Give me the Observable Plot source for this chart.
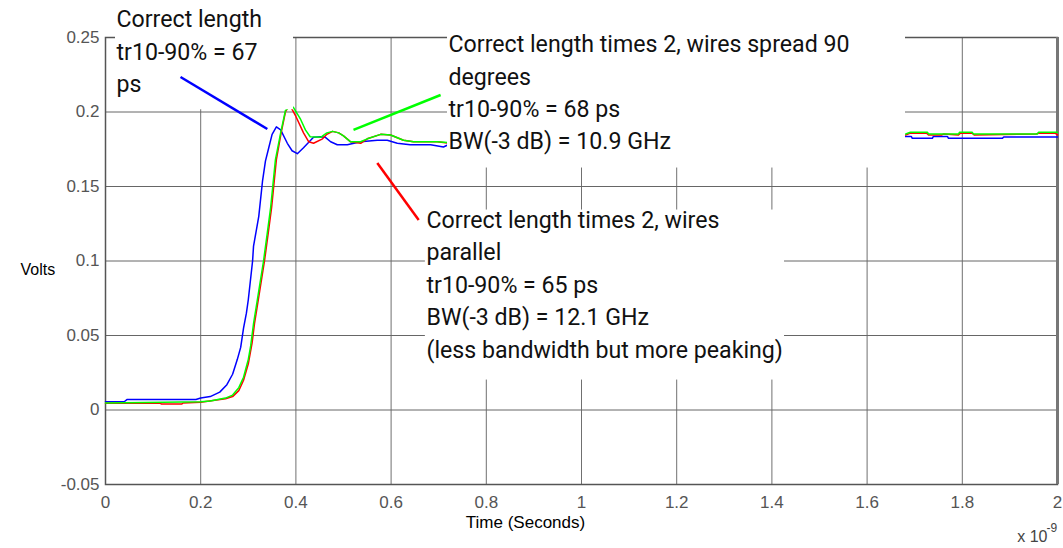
<!DOCTYPE html>
<html>
<head>
<meta charset="utf-8">
<script src="https://cdn.jsdelivr.net/npm/d3@7"></script>
<script src="https://cdn.jsdelivr.net/npm/@observablehq/plot@0.6"></script>
<style>
  html, body { margin: 0; padding: 0; background: #fff; }
  #chart svg { display: block; }
</style>
</head>
<body>
<div id="chart"></div>
<script>
// ---- axes ----
const xTicks = [0, 0.2, 0.4, 0.6, 0.8, 1, 1.2, 1.4, 1.6, 1.8, 2];
const yTicks = [-0.05, 0, 0.05, 0.1, 0.15, 0.2, 0.25];

// ---- series (time in ns, value in volts) ----
const blueT = [0, 0.04, 0.045, 0.19, 0.2, 0.22, 0.24, 0.255, 0.267, 0.277, 0.284, 0.29, 0.296, 0.3, 0.309, 0.311, 0.322, 0.33, 0.336, 0.343, 0.35, 0.359, 0.368, 0.382, 0.392, 0.403, 0.416, 0.437, 0.452, 0.462, 0.473, 0.487, 0.508, 0.536, 0.571, 0.592, 0.613, 0.64, 0.683, 0.71, 0.72,
  1.681, 1.693, 1.695, 1.737, 1.739, 1.769, 1.771, 1.884, 1.887, 2.0];
const blueV = [0.0055, 0.0057, 0.007, 0.007, 0.008, 0.009, 0.012, 0.017, 0.024, 0.034, 0.042, 0.055, 0.065, 0.074, 0.1, 0.11, 0.13, 0.154, 0.167, 0.176, 0.185, 0.19, 0.188, 0.179, 0.174, 0.172, 0.176, 0.183, 0.1834, 0.183, 0.18, 0.178, 0.178, 0.18, 0.181, 0.181, 0.179, 0.178, 0.178, 0.1765, 0.178,
  0.1835, 0.1835, 0.1823, 0.1823, 0.1835, 0.1835, 0.1823, 0.1823, 0.1832, 0.1832];

const redT = [0, 0.115, 0.118, 0.16, 0.163, 0.2, 0.252, 0.267, 0.28, 0.29, 0.3, 0.308, 0.313, 0.324, 0.334, 0.342, 0.349, 0.354, 0.359, 0.369, 0.378, 0.385, 0.39, 0.4, 0.416, 0.427, 0.437, 0.456, 0.465, 0.477, 0.49, 0.5, 0.515, 0.536, 0.55, 0.578, 0.599, 0.626, 0.647, 0.697, 0.718,
  1.681, 1.691, 1.725, 1.729, 1.757, 1.761, 1.792, 1.796, 1.821, 1.825, 1.955, 1.96, 1.995, 2.0];
const redV = [0.0045, 0.0045, 0.004, 0.004, 0.0047, 0.0052, 0.0075, 0.009, 0.013, 0.02, 0.031, 0.045, 0.058, 0.08, 0.1, 0.119, 0.136, 0.152, 0.168, 0.186, 0.2, 0.204, 0.203, 0.197, 0.186, 0.18, 0.179, 0.182, 0.185, 0.187, 0.186, 0.184, 0.18, 0.179, 0.182, 0.185, 0.1846, 0.181, 0.18, 0.18, 0.1792,
  0.1846, 0.1858, 0.1858, 0.1846, 0.1846, 0.1852, 0.1846, 0.1858, 0.1858, 0.1846, 0.1852, 0.1858, 0.1858, 0.1846];

const greenT = [0, 0.2, 0.22, 0.252, 0.267, 0.28, 0.29, 0.3, 0.305, 0.311, 0.322, 0.332, 0.34, 0.347, 0.352, 0.357, 0.368, 0.378, 0.389, 0.395, 0.41, 0.42, 0.43, 0.452, 0.465, 0.477, 0.49, 0.5, 0.515, 0.536, 0.55, 0.578, 0.599, 0.626, 0.647, 0.697, 0.718,
  1.681, 1.691, 1.727, 1.729, 1.792, 1.794, 1.821, 1.823, 1.958, 1.96, 2.0];
const greenV = [0.0047, 0.0055, 0.006, 0.008, 0.01, 0.015, 0.022, 0.034, 0.043, 0.058, 0.08, 0.1, 0.119, 0.136, 0.152, 0.168, 0.186, 0.201, 0.204, 0.203, 0.195, 0.188, 0.1834, 0.183, 0.186, 0.187, 0.186, 0.184, 0.18, 0.18, 0.182, 0.185, 0.1846, 0.181, 0.18, 0.18, 0.1795,
  0.1852, 0.1864, 0.1864, 0.1852, 0.1852, 0.1864, 0.1864, 0.1852, 0.1852, 0.1864, 0.1864];

// ---- annotations (data units) ----
const annText = [
  "Correct length\ntr10-90% = 67\nps",
  "Correct length times 2, wires spread 90\ndegrees\ntr10-90% = 68 ps\nBW(-3 dB) = 10.9 GHz",
  "Correct length times 2, wires\nparallel\ntr10-90% = 65 ps\nBW(-3 dB) = 12.1 GHz\n(less bandwidth but more peaking)"
];
const annX = [0.0231, 0.7206, 0.6744];
const annY = [0.2723, 0.2555, 0.1376];
const boxX1 = [0.021, 0.7185, 0.672];
const boxX2 = [0.395, 1.6807, 1.4265];
const boxY1 = [0.2015, 0.1624, 0.0201];
const boxY2 = [0.285, 0.2604, 0.1342];
const ptrX1 = [0.1576, 0.521, 0.571];
const ptrY1 = [0.2235, 0.188, 0.1658];
const ptrX2 = [0.34, 0.704, 0.658];
const ptrY2 = [0.1886, 0.2114, 0.1275];
const ptrColor = ["#0000ff", "#00ff00", "#ff0000"];

const series = (T, V) => T.map((t, i) => ({t, v: V[i]}));
const blue = series(blueT, blueV), red = series(redT, redV), green = series(greenT, greenV);
const anns = annText.map((s, i) => ({s, x: annX[i], y: annY[i]}));
const boxes = boxX1.map((_, i) => ({x1: boxX1[i], x2: boxX2[i], y1: boxY1[i], y2: boxY2[i]}));
const ptrs = ptrX1.map((_, i) => ({x1: ptrX1[i], y1: ptrY1[i], x2: ptrX2[i], y2: ptrY2[i], c: ptrColor[i]}));

const chart = Plot.plot({
  width: 1063,
  height: 548,
  marginLeft: 105,
  marginRight: 6,
  marginTop: 37,
  marginBottom: 64,
  style: {fontFamily: "'Liberation Sans', Arial, sans-serif", background: "#fff"},
  x: {domain: [0, 2]},
  y: {domain: [-0.05, 0.25]},
  marks: [
    Plot.ruleX(xTicks, {stroke: "#707070", strokeWidth: 1}),
    Plot.ruleY(yTicks, {stroke: "#666", strokeWidth: 1}),
    Plot.frame({stroke: "#555", strokeWidth: 1.5}),
    Plot.ruleX([2], {stroke: "#777", strokeWidth: 3}),
    Plot.axisX({ticks: xTicks, tickSize: 0, tickPadding: 11, fontSize: 17, color: "#555", label: null, tickFormat: d => String(d)}),
    Plot.axisY({ticks: yTicks, tickSize: 0, tickPadding: 6, fontSize: 17, color: "#555", label: null, tickFormat: d => String(d)}),
    Plot.line(blue, {x: "t", y: "v", stroke: "#0000ff", strokeWidth: 1.5}),
    Plot.line(red, {x: "t", y: "v", stroke: "#ff0000", strokeWidth: 1.5}),
    Plot.line(green, {x: "t", y: "v", stroke: "#00ff00", strokeWidth: 1.5}),
    Plot.rect(boxes, {x1: "x1", x2: "x2", y1: "y1", y2: "y2", fill: "#fff"}),
    Plot.link(ptrs, {x1: "x1", y1: "y1", x2: "x2", y2: "y2", stroke: "c", strokeWidth: 2.5}),
    Plot.text(anns, {x: "x", y: "y", text: "s", textAnchor: "start", lineAnchor: "top", lineHeight: 1.35, fontSize: 24, fontFamily: "Roboto", fill: "#111"}),
    Plot.text(["Volts"], {frameAnchor: "left", textAnchor: "start", dx: -85, dy: 9, fontSize: 16, letterSpacing: "-0.6px", fill: "#000"}),
    Plot.text(["Time (Seconds)"], {frameAnchor: "bottom", dx: -56, dy: 43, fontSize: 17, letterSpacing: "-0.3px", fill: "#000"}),
    Plot.text(["x 10"], {frameAnchor: "bottom-right", textAnchor: "end", dx: -10, dy: 57, fontSize: 16, letterSpacing: "-0.5px", fill: "#444"}),
    Plot.text(["-9"], {frameAnchor: "bottom-right", textAnchor: "start", dx: -11, dy: 47, fontSize: 12, fill: "#444"})
  ]
});

// horizontally tighten annotation glyphs to match the reference's narrower lettering
for (const t of chart.querySelectorAll("g[font-family='Roboto'] text")) {
  const tr = t.getAttribute("transform");
  if (tr) t.setAttribute("transform", tr + " scale(0.965,1)");
  else {
    const x = +t.getAttribute("x") || 0, y = +t.getAttribute("y") || 0;
    t.removeAttribute("x"); t.removeAttribute("y");
    t.setAttribute("transform", `translate(${x},${y}) scale(0.965,1)`);
  }
}
document.getElementById("chart").appendChild(chart);
</script>
</body>
</html>
